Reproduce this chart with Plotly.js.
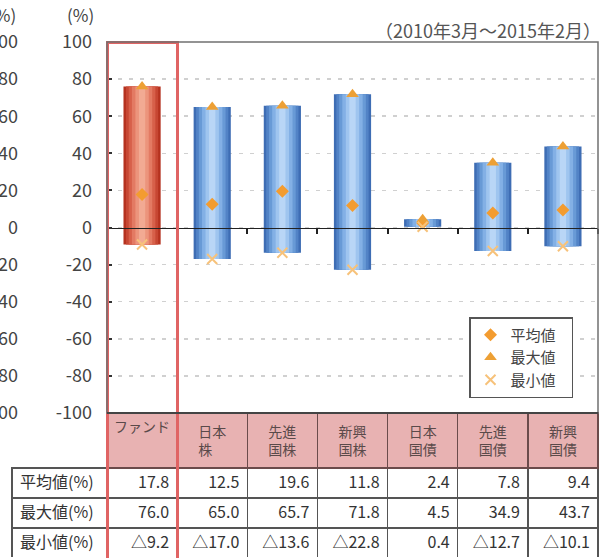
<!DOCTYPE html>
<html>
<head>
<meta charset="utf-8">
<script src="https://cdn.plot.ly/plotly-3.0.1.min.js"></script>
<style>html,body{margin:0;padding:0;background:#fff;}#chart{width:603px;height:558px;}</style>
</head>
<body>
<div id="chart"></div>
<script>
// ---- data ----
var categories = ['ファンド', '日本株', '先進国株', '新興国株', '日本国債', '先進国債', '新興国債'];
var headerLabels = ['ファンド', '日本<br>株', '先進<br>国株', '新興<br>国株', '日本<br>国債', '先進<br>国債', '新興<br>国債'];
var meanVals = [17.8, 12.5, 19.6, 11.8, 2.4, 7.8, 9.4];
var maxVals  = [76.0, 65.0, 65.7, 71.8, 4.5, 34.9, 43.7];
var minVals  = [-9.2, -17.0, -13.6, -22.8, 0.4, -12.7, -10.1];
var rowLabels = ['平均値(%)', '最大値(%)', '最小値(%)'];
var seriesNames = ['平均値', '最大値', '最小値'];
var periodLabel = '（2010年3月～2015年2月）';
var yTicks = [-100, -80, -60, -40, -20, 0, 20, 40, 60, 80, 100];
var yTickText = ['-100', '-80', '-60', '-40', '-20', '0', '20', '40', '60', '80', '100'];

// ---- layout geometry (pixels) ----
var W = 603, H = 558;
function px(x) { return x / W; }
function py(y) { return 1 - y / H; }
var plotL = 107, plotR = 598, plotT = 42, plotB = 413;
var colW = (plotR - plotL) / categories.length;
var yDom = [py(plotB), py(plotT)];
var zeroPos = yDom[0] + (0 - (-100)) / 200 * (yDom[1] - yDom[0]);

var JP = '"Noto Sans CJK JP", "Noto Sans", sans-serif';
var NONE = 'rgba(0,0,0,0)';

// gradient bar layers (edge -> centre)
var widths = [0.53, 0.46, 0.38, 0.29, 0.19, 0.09];
var redShades  = ['#b5321f', '#c74733', '#d7604a', '#e37a63', '#ec947c', '#f2aa93'];
var blueShades = ['#3e6db4', '#5283c6', '#689ad6', '#83b0e5', '#9fc5ef', '#b9d6f6'];

var traces = [];
var spans = maxVals.map(function (v, i) { return v - minVals[i]; });
widths.forEach(function (w, k) {
  traces.push({
    type: 'bar', x: categories, y: spans, base: minVals,
    width: categories.map(function () { return w; }),
    marker: { color: categories.map(function (c, i) { return i === 0 ? redShades[k] : blueShades[k]; }), line: { width: 0 } },
    showlegend: false, hoverinfo: 'skip'
  });
});

var pad = '\u00a0\u00a0\u00a0';
traces.push({ type: 'scatter', mode: 'markers', x: categories, y: meanVals, name: seriesNames[0] + pad,
  marker: { symbol: 'diamond', size: 10, color: '#f39c30' } });
traces.push({ type: 'scatter', mode: 'markers', x: categories, y: maxVals, name: seriesNames[1] + pad,
  marker: { symbol: 'triangle-up', size: 11, color: '#eda035' } });
traces.push({ type: 'scatter', mode: 'markers', x: categories, y: minVals, name: seriesNames[2] + pad,
  marker: { symbol: 'x-thin', size: 10, color: '#f7c27a', line: { color: '#f7c27a', width: 2 } } });

// helper trace to keep the cropped left axis alive
traces.push({ type: 'scatter', mode: 'markers', x: [categories[0]], y: [0], yaxis: 'y2',
  marker: { opacity: 0 }, showlegend: false, hoverinfo: 'skip' });

// table
function fmt(v) { return v < 0 ? '△' + Math.abs(v).toFixed(1) : v.toFixed(1); }
var cellVals = [rowLabels];
categories.forEach(function (c, i) {
  cellVals.push([fmt(meanVals[i]), fmt(maxVals[i]), fmt(minVals[i])]);
});
var headerFill = [NONE].concat(categories.map(function () { return '#e8b2b2'; }));
var headerLine = [NONE].concat(categories.map(function () { return '#6b4b4b'; }));
traces.push({
  type: 'table',
  domain: { x: [px(12), px(plotR)], y: [0, py(plotB)] },
  columnwidth: [95].concat(categories.map(function () { return colW; })),
  header: {
    values: [''].concat(headerLabels),
    fill: { color: headerFill },
    line: { color: headerLine, width: 1.5 },
    align: 'center', height: 55,
    font: { family: JP, size: 14, color: '#5a4a4a' }
  },
  cells: {
    values: cellVals,
    fill: { color: '#ffffff' },
    line: { color: '#555555', width: 1.5 },
    align: ['left'].concat(categories.map(function () { return 'right'; })),
    height: 30,
    font: { family: JP, size: 16, color: '#333333' }
  }
});
// red frame around the fund column (plot + table)
traces.push({
  type: 'table',
  domain: { x: [px(plotL), px(plotL + colW)], y: [0, py(plotT)] },
  header: { values: [''], fill: { color: NONE }, line: { color: '#e06464', width: 3 }, height: H },
  cells: { values: [[]], fill: { color: NONE }, line: { color: NONE, width: 0 } }
});

var layout = {
  width: W, height: H,
  margin: { l: 0, r: 0, t: 0, b: 0 },
  paper_bgcolor: '#ffffff', plot_bgcolor: '#ffffff',
  font: { family: JP, color: '#333' },
  barmode: 'overlay',
  showlegend: true,
  xaxis: {
    type: 'category', domain: [px(plotL), px(plotR)], range: [-0.5, 6.5],
    anchor: 'free', position: zeroPos,
    showline: true, linecolor: '#222', linewidth: 1.5,
    ticks: 'outside', tickson: 'boundaries', ticklen: 5, tickwidth: 2, tickcolor: '#222',
    showticklabels: false, showgrid: false, zeroline: false, fixedrange: true
  },
  yaxis: {
    domain: yDom, range: [-100, 100], tickvals: yTicks, ticktext: yTickText,
    showgrid: true, gridcolor: '#d0d0d0', griddash: '4px,7px', gridwidth: 1.5,
    zeroline: false, showline: false,
    ticks: 'inside', ticklen: 5, tickwidth: 2, tickcolor: '#333',
    ticklabelstandoff: 14,
    tickfont: { family: JP, size: 18, color: '#444' }
  },
  yaxis2: {
    overlaying: 'y', anchor: 'free', position: px(18), side: 'left',
    range: [-100, 100], tickvals: yTicks, ticktext: yTickText,
    showgrid: false, zeroline: false, showline: false,
    ticks: '', tickfont: { family: JP, size: 18, color: '#444' }
  },
  legend: {
    x: px(469), y: py(317), xanchor: 'left', yanchor: 'top',
    bgcolor: '#ffffff', bordercolor: '#555', borderwidth: 1.5,
    font: { family: JP, size: 15, color: '#444' }, tracegroupgap: 0
  },
  shapes: [
    { type: 'rect', xref: 'x domain', yref: 'y domain', x0: 0, x1: 1, y0: 0, y1: 1,
      line: { color: '#707070', width: 1.5 }, layer: 'above' },
    { type: 'line', xref: 'x domain', yref: 'y domain', x0: 0, x1: 1, y0: 0, y1: 0,
      line: { color: '#444', width: 2 }, layer: 'above' }
  ],
  annotations: [
    { text: '(%)', xref: 'paper', yref: 'paper', x: px(96), y: py(15), xanchor: 'right', yanchor: 'middle',
      showarrow: false, font: { family: JP, size: 17, color: '#444' } },
    { text: '(%)', xref: 'paper', yref: 'paper', x: px(18), y: py(15), xanchor: 'right', yanchor: 'middle',
      showarrow: false, font: { family: JP, size: 17, color: '#444' } },
    { text: periodLabel, xref: 'paper', yref: 'paper', x: px(603), y: py(30), xanchor: 'right', yanchor: 'middle',
      showarrow: false, font: { family: JP, size: 18, color: '#555' } }
  ]
};

Plotly.newPlot('chart', traces, layout, { staticPlot: true, displayModeBar: false });
</script>
</body>
</html>
